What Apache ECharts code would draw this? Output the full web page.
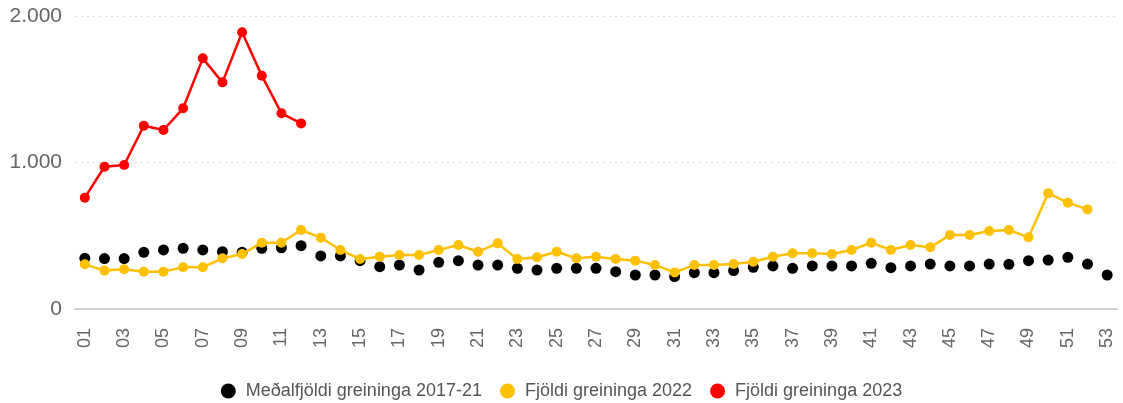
<!DOCTYPE html>
<html><head><meta charset="utf-8">
<script src="https://cdn.jsdelivr.net/npm/echarts@6/dist/echarts.min.js"></script>
<style>html,body{margin:0;padding:0;background:#fff}#c{width:1123px;height:403px}</style>
</head><body><div id="c"></div>
<script>
const weeks = Array.from({length:53},(_,i)=>String(i+1).padStart(2,'0'));
const avg2017_21 = [346,344,344,387,403,414,403,391,387,414,418,432,362,362,330,289,300,266,319,330,300,300,278,266,278,278,278,255,232,232,221,248,248,262,285,294,278,294,294,294,312,282,294,307,294,294,307,305,330,334,353,307,232];
const y2022 = [305,262,271,255,255,285,285,346,375,453,453,539,487,403,341,357,369,369,403,437,391,448,341,353,391,346,357,341,330,300,250,300,300,307,323,357,380,380,375,403,453,403,437,421,505,505,532,539,489,790,726,680,null];
const y2023 = [760,971,983,1251,1222,1370,1711,1547,1889,1593,1336,1267];
const names = ['Meðalfjöldi greininga 2017-21','Fjöldi greininga 2022','Fjöldi greininga 2023'];

const chart = echarts.init(document.getElementById('c'));
const font = 'Liberation Sans, Arial, sans-serif';
chart.setOption({
  animation:false,
  textStyle:{fontFamily:font},
  grid:{left:75,right:6,top:16,bottom:94},
  legend:{top:377,left:'center',icon:'circle',itemWidth:15,itemHeight:15,itemGap:18,
    textStyle:{fontSize:18,color:'#555',fontFamily:font,padding:[0,0,0,5]},data:names},
  xAxis:{type:'category',data:weeks,boundaryGap:true,
    axisLine:{lineStyle:{color:'#d0d0d0',width:2}},
    axisTick:{alignWithLabel:true,interval:1,length:8,lineStyle:{color:'#d0d0d0'}},
    axisLabel:{interval:1,rotate:90,fontSize:18,color:'#666',margin:19,fontFamily:font}},
  yAxis:{type:'value',min:0,max:2000,interval:1000,
    axisLine:{show:false},axisTick:{show:false},
    axisLabel:{fontSize:21,color:'#666',margin:13,fontFamily:font,
      formatter:v=>v===0?'0':(v/1000)+'.000'},
    splitLine:{lineStyle:{color:'#dcdcdc',type:[2,4],width:1}}},
  series:[
    {name:names[0],type:'line',data:avg2017_21,symbol:'circle',symbolSize:11,
      itemStyle:{color:'#000'},lineStyle:{opacity:0,width:0},z:2},
    {name:names[1],type:'line',data:y2022,symbol:'circle',symbolSize:10,
      itemStyle:{color:'#FFC000'},lineStyle:{color:'#FFC000',width:2.5},z:3},
    {name:names[2],type:'line',data:y2023,symbol:'circle',symbolSize:10,
      itemStyle:{color:'#FF0000'},lineStyle:{color:'#FF0000',width:2.5},z:4}
  ]
});
</script></body></html>
